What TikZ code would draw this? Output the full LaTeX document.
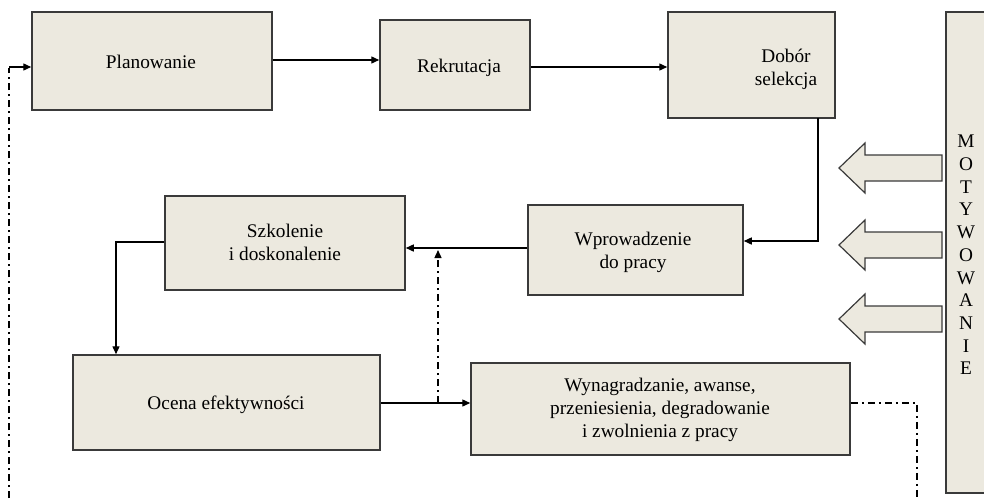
\documentclass[tikz,border=0pt]{standalone}
\usepackage{fontspec}
\setmainfont{Liberation Serif}
\usetikzlibrary{arrows.meta}
\definecolor{boxfill}{HTML}{ECE9DF}
\definecolor{boxline}{HTML}{3A3A3A}
\begin{document}
\begin{tikzpicture}[x=1pt,y=-1pt,
  box/.style={draw=boxline,fill=boxfill,line width=1.5pt,inner sep=0pt,rectangle},
  lbl/.style={align=center,font=\fontsize{19.3}{23}\selectfont,inner sep=0pt},
  conn/.style={line width=1.4pt,-{Triangle[length=8pt,width=7pt]}},
  plain/.style={line width=1.4pt},
  dd/.style={line width=1.4pt,dash pattern=on 7pt off 4pt on 2pt off 4pt},
  blockarrow/.style={draw=boxline,fill=boxfill,line width=1.2pt,line join=miter}]
\useasboundingbox (0,0) rectangle (984,498);

% boxes
\node[box,minimum width=240pt,minimum height=98pt] (plan) at (152,61) {};
\node[box,minimum width=150pt,minimum height=90pt] (rek) at (455,65) {};
\node[box,minimum width=167pt,minimum height=106pt] (dob) at (751.5,65) {};
\node[box,minimum width=240pt,minimum height=94pt] (szk) at (285,243) {};
\node[box,minimum width=215pt,minimum height=90pt] (wpr) at (635.5,250) {};
\node[box,minimum width=307pt,minimum height=95pt] (oce) at (226.5,402.5) {};
\node[box,minimum width=379pt,minimum height=92pt] (wyn) at (660.5,409) {};
\node[box,minimum width=60pt,minimum height=481pt] (mot) at (976,252.5) {};

% texts
\node[lbl] (tplan) at (151,62) {Planowanie};
\node[lbl] (trek) at (459,68) {Rekrutacja};
\node[lbl] (tdob) at (786,69) {Dobór\\selekcja};
\node[lbl] (tszk) at (285,242) {Szkolenie\\i doskonalenie};
\node[lbl] (twpr) at (633,252) {Wprowadzenie\\do pracy};
\node[lbl] (toce) at (226,405) {Ocena efektywności};
\node[lbl] (twyn) at (660,410) {Wynagradzanie, awanse,\\przeniesienia, degradowanie\\i zwolnienia z pracy};
\node[align=center,font=\fontsize{19.3}{22.7}\selectfont,inner sep=0pt] (tmot) at (966,255) {M\\O\\T\\Y\\W\\O\\W\\A\\N\\I\\E};

% block arrows
\foreach \c/\n in {168/ba1,245/ba2,319/ba3}{
  \draw[blockarrow] (839,\c) -- (865,\c-25) -- (865,\c-13) -- (942,\c-13)
    -- (942,\c+13) -- (865,\c+13) -- (865,\c+25) -- cycle;
}

% connectors
\draw[conn] (plan.east |- 0,60) -- (rek.west |- 0,60);
\draw[conn] (rek.east |- 0,67) -- (dob.west |- 0,67);
\draw[conn] (818,118) -- (818,241) -- (wpr.east |- 0,241);
\draw[conn] (wpr.west |- 0,248) -- (szk.east |- 0,248);
\draw[conn] (szk.west |- 0,242) -- (116,242) -- (oce.north -| 116,0);
\draw[conn] (oce.east |- 0,403) -- (wyn.west |- 0,403);
\coordinate (split) at (438,403);
\draw[dd,-{Triangle[length=8pt,width=7pt]}] (split) -- (438,250);
\coordinate (endr) at (917,498);
\draw[dd] (wyn.east |- 0,403) -- (917,403) -- (endr);
\coordinate (startl) at (9,498);
\draw[dd] (startl) -- (9,68);
\draw[conn] (9,67) -- (plan.west |- 0,67);
\end{tikzpicture}
\end{document}
